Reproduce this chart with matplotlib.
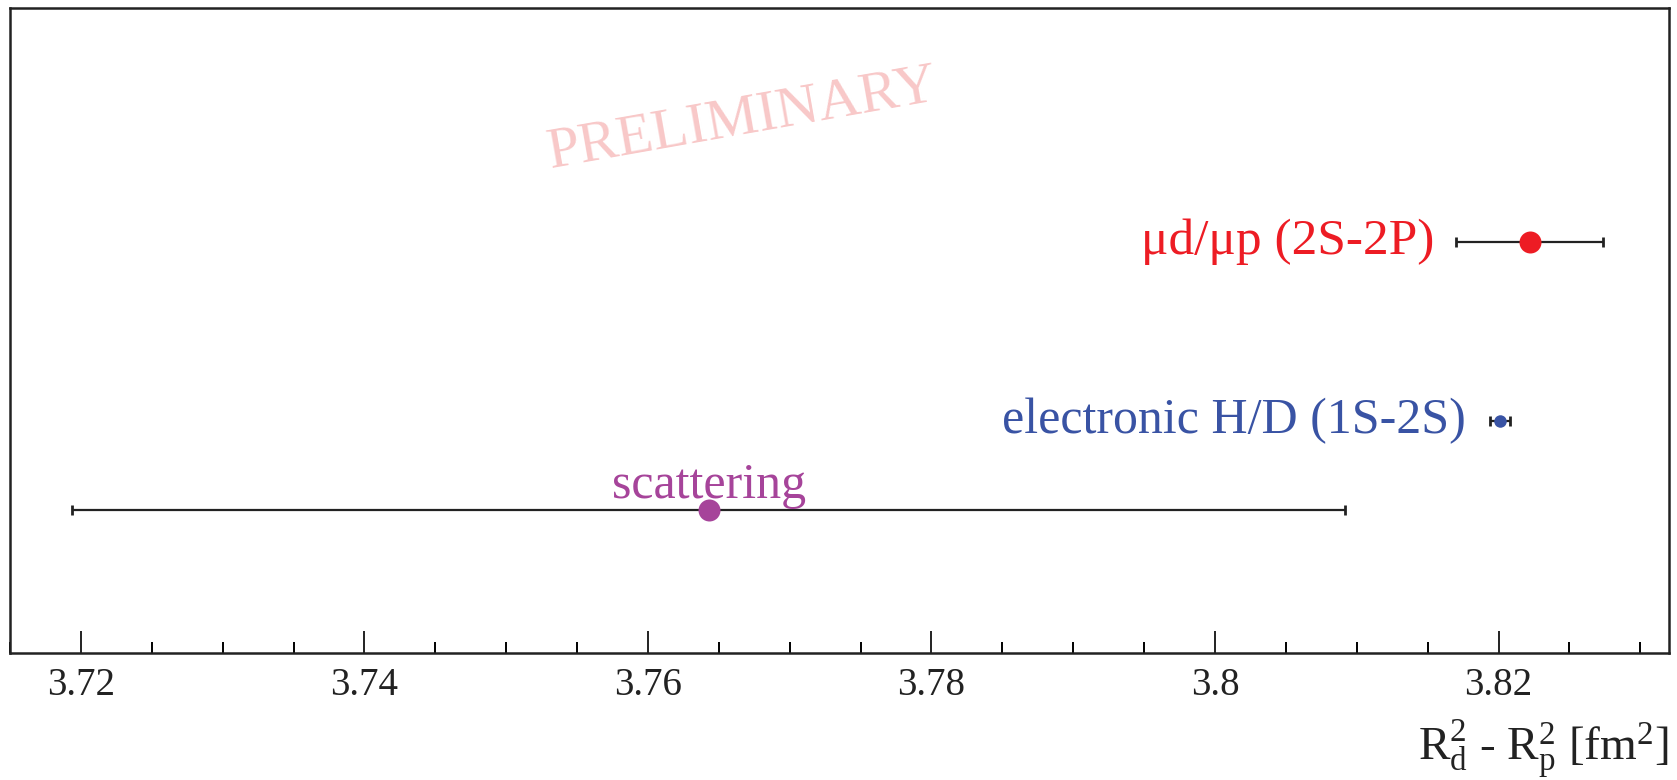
"""R_d^2 - R_p^2 comparison plot (muonic vs electronic vs scattering)."""

import matplotlib
import matplotlib.pyplot as plt
from matplotlib.ticker import FixedLocator, MultipleLocator

matplotlib.use("Agg")

plt.rcParams["font.family"] = ["Liberation Serif", "DejaVu Serif"]
plt.rcParams["mathtext.fontset"] = "custom"
plt.rcParams["mathtext.rm"] = "Liberation Serif"
plt.rcParams["mathtext.it"] = "Liberation Serif:italic"

# ---------------------------------------------------------------------------
# data
# ---------------------------------------------------------------------------
labels = ["μd/μp (2S-2P)", "electronic H/D (1S-2S)", "scattering"]
values = [3.8222, 3.8201, 3.7643]
errors = [0.0052, 0.0007, 0.0449]
y_pos = [0.638, 0.360, 0.222]
colors = ["#ED1C24", "#3953A4", "#A6449A"]
marker_px = [22, 12.5, 22]

tick_values = [3.72, 3.74, 3.76, 3.78, 3.80, 3.82]
tick_labels = ["3.72", "3.74", "3.76", "3.78", "3.8", "3.82"]
x_range = (3.715, 3.832)

# text anchors (data x) for the two right-aligned labels
label_x = [3.8155, 3.8177]

DPI = 100
fig = plt.figure(figsize=(16.77, 7.80), dpi=DPI)
ax = fig.add_axes([0.006, 0.1624, 0.989, 0.8273])

for i in range(len(values)):
    ax.errorbar(values[i], y_pos[i], xerr=errors[i], fmt="none",
                ecolor="#222222", elinewidth=1.6, capsize=3.5, capthick=2.0,
                zorder=2)
    ax.plot(values[i], y_pos[i], "o", color=colors[i],
            markersize=marker_px[i] * 72 / DPI, markeredgewidth=0, zorder=3)

# labels
ax.text(label_x[0], y_pos[0], labels[0], color=colors[0], fontsize=37,
        ha="right", va="center")
ax.text(label_x[1], y_pos[1], labels[1], color=colors[1], fontsize=36,
        ha="right", va="center")
ax.annotate(labels[2], (values[2], y_pos[2]), xytext=(0, 9),
            textcoords="offset points", color=colors[2], fontsize=36,
            ha="center", va="baseline")

# watermark
fig.text(0.4425, 0.846, "PRELIMINARY", color="#F8C8C8", fontsize=42,
         rotation=10, ha="center", va="center")

ax.set_xlim(*x_range)
ax.set_ylim(0, 1)
ax.xaxis.set_major_locator(FixedLocator(tick_values))
ax.set_xticklabels(tick_labels)
ax.xaxis.set_minor_locator(MultipleLocator(0.005))
ax.tick_params(axis="x", which="major", direction="in", length=15.8,
               width=1.4, labelsize=28, pad=10, colors="#222222")
ax.tick_params(axis="x", which="minor", direction="in", length=7.9,
               width=1.4)
ax.tick_params(axis="y", left=False, labelleft=False)
for s in ax.spines.values():
    s.set_linewidth(1.8)
    s.set_color("#222222")

fig.text(0.9947, 0.025, r"R$_{\rm d}^{2}$ - R$_{\rm p}^{2}$ [fm$^{2}$]",
         fontsize=34, ha="right", va="baseline", color="#222222")

fig.savefig("out.png", dpi=DPI)
